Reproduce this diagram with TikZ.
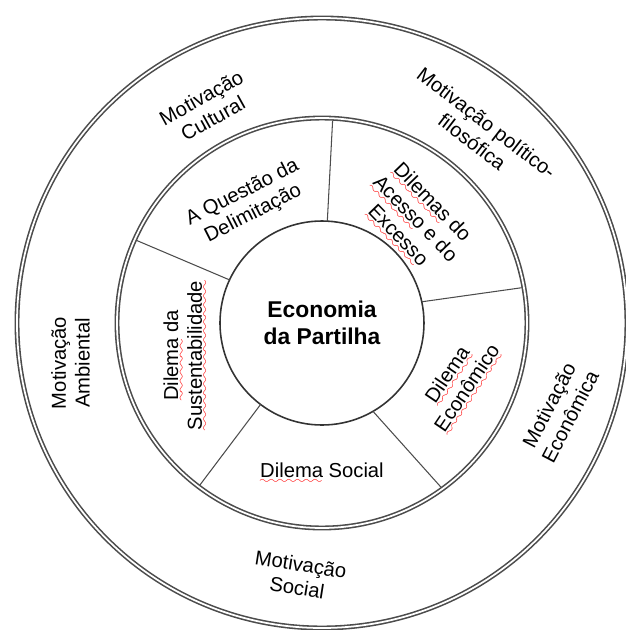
\documentclass[tikz,border=0pt]{standalone}
\usepackage{fontspec}
\setmainfont{Liberation Sans}
\usepackage{tikz}
\font\wavyfont=lasy6
\newcommand{\wavy}[1]{\setbox0\hbox{#1}\rlap{\raisebox{-3.2pt}{\hbox to \wd0{\color{red}\leaders\hbox{\wavyfont\char58}\hfil}}}\box0\relax}
\tikzstyle{spoke}=[draw=gray!60!black, line width=0.6pt, shorten >=1.3pt]
\tikzset{
  ring/.style={
    circle,
    draw=gray!60!black,
    line width=0.9pt,
    double=white,
    double distance=1pt,
    inner sep=0pt,
    outer sep=0pt},
  hub/.style={
    circle,
    draw=gray!40!black,
    line width=0.9pt,
    align=center,
    inner sep=0pt,
    outer sep=0pt,
    minimum size=4.08cm,
    font=\fontsize{13}{15.5}\selectfont\bfseries},
  dilemma/.style={
    align=center,
    inner sep=0pt,
    font=\fontsize{11.5}{13.5}\selectfont},
  motive/.style={
    dilemma}
}

\begin{document}
\begin{tikzpicture}
  \useasboundingbox (-6.44, -6.14) rectangle (6.08, 6.46);

  % Rings
  \node (motives) [ring, minimum size=12.2cm] at (0, 0) {};
  \node (dilemmas) [ring, minimum size=8.2cm] at (0, 0) {};
  \node (partilha) [hub] at (0, 0) {Economia\\da Partilha};

  % Spokes of the inner ring
  \draw[spoke] (partilha.87) -- (dilemmas.87);
  \draw[spoke] (partilha.155) -- (dilemmas.156);
  \draw[spoke] (partilha.233) -- (dilemmas.233);
  \draw[spoke] (partilha.300) -- (dilemmas.306);
  \draw[spoke] (partilha.12) -- (dilemmas.10);

  % Dilemmas
  \node (delimitacao) [dilemma, rotate=27] at (-1.48, 2.39) {A Questão da\\Delimitação};
  \node (acesso) [dilemma, rotate=-46] at (1.84, 2.06) {\wavy{Dilemas} do\\\wavy{Acesso} e do\\\wavy{Excesso}};
  \node (sustentabilidade) [dilemma, rotate=90] at (-2.73, -0.65) {\wavy{Dilema} da\\\wavy{Sustentabilidade}};
  \node (economico) [dilemma, rotate=56] at (2.74, -1.19) {\wavy{Dilema}\\\wavy{Econômico}};
  \node (social) [dilemma] at (0, -3.0) {\wavy{Dilema} Social};

  % Motivations
  \node (cultural) [motive, rotate=29] at (-2.3, 4.3) {Motivação\\Cultural};
  \node (politica) [motive, rotate=-37.5] at (3.15, 3.82) {Motivação político-\\filosófica};
  \node (ambiental) [motive, rotate=90] at (-5.03, -0.8) {Motivação\\Ambiental};
  \node (economica) [motive, rotate=62.5] at (4.75, -1.76) {Motivação\\Econômica};
  \node (msocial) [motive, rotate=-9] at (-0.46, -5.06) {Motivação\\Social};
\end{tikzpicture}
\end{document}
